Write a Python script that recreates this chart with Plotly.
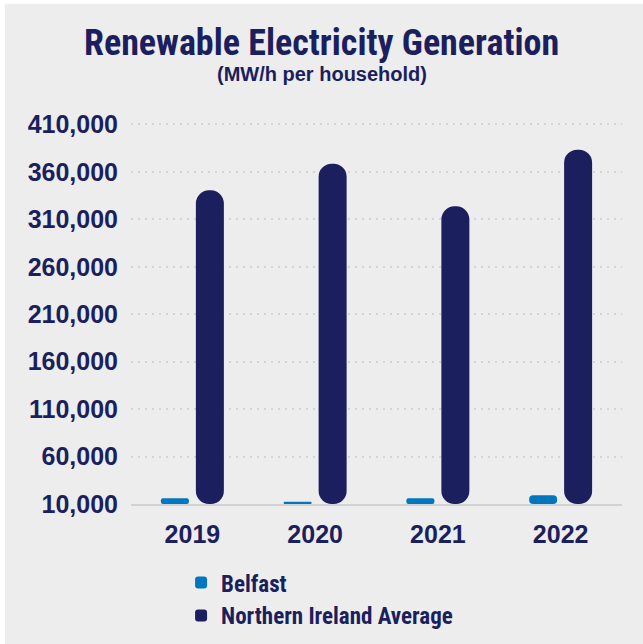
import plotly.graph_objects as go

years = ["2019", "2020", "2021", "2022"]
belfast = [16000, 12400, 16000, 19200]
ni_avg = [340600, 368700, 323700, 383500]
tick_vals = [10000, 60000, 110000, 160000, 210000, 260000, 310000, 360000, 410000]
tick_text = ["10,000", "60,000", "110,000", "160,000", "210,000", "260,000", "310,000", "360,000", "410,000"]

AXIS_MIN = 10000
AXIS_MAX = 420000

NAVY = "#1b1f5e"
BLUE = "#0077be"
BG = "#ededed"
COND = "Roboto Condensed, Liberation Sans"

fig = go.Figure()
fig.add_trace(go.Bar(
    name="Belfast", x=years, y=[v - AXIS_MIN for v in belfast], base=AXIS_MIN,
    marker=dict(color=BLUE, line=dict(width=0)),
    legendgroup="a",
))
fig.add_trace(go.Bar(
    name="Northern Ireland Average", x=years, y=[v - AXIS_MIN for v in ni_avg], base=AXIS_MIN,
    marker=dict(color=NAVY, line=dict(width=0)),
    legendgroup="b",
))

fig.update_layout(
    width=643, height=644,
    margin=dict(l=131, r=21, t=115, b=140, autoexpand=False),
    paper_bgcolor=BG, plot_bgcolor=BG,
    barmode="group", bargap=0.43, bargroupgap=0.2, barcornerradius=14,
    font=dict(family="Liberation Sans", color=NAVY),
    showlegend=True,
    legend=dict(
        x=0.102, xanchor="left", y=-0.1467, yanchor="top",
        orientation="v", traceorder="normal", tracegroupgap=6,
        font=dict(family=COND, size=23, color=NAVY, weight="bold"),
        bgcolor="rgba(0,0,0,0)",
    ),
    xaxis=dict(
        showgrid=False, showline=True, linecolor="#d2d2d2", linewidth=1.5,
        ticks="outside", ticklen=7, tickcolor="rgba(0,0,0,0)",
        tickfont=dict(family="Liberation Sans", size=25, color=NAVY, weight="bold"),
    ),
    yaxis=dict(
        range=[AXIS_MIN, AXIS_MAX], tickvals=tick_vals, ticktext=tick_text,
        showgrid=True, gridcolor="#d4d4d4", gridwidth=2, griddash="2px,5px",
        zeroline=False, showline=False,
        ticklabelstandoff=12,
        tickfont=dict(family="Liberation Sans", size=25, color=NAVY, weight="bold"),
    ),
    annotations=[
        dict(text="<b>Renewable Electricity Generation</b>", xref="paper", yref="paper",
             x=0.388, y=1.186, xanchor="center", yanchor="middle", showarrow=False,
             font=dict(family=COND, size=36, color=NAVY)),
        dict(text="<b>(MW/h per household)</b>", xref="paper", yref="paper",
             x=0.388, y=1.105, xanchor="center", yanchor="middle", showarrow=False,
             font=dict(family="Liberation Sans", size=20, color=NAVY)),
    ],
    shapes=[
        dict(type="rect", xref="paper", yref="paper", x0=-0.27, x1=-0.2566, y0=-0.4, y1=1.35,
             fillcolor="white", line=dict(width=0), layer="below"),
        dict(type="rect", xref="paper", yref="paper", x0=-0.27, x1=1.1, y0=1.2863, y1=1.35,
             fillcolor="white", line=dict(width=0), layer="below"),
    ],
)

fig.write_html("out.html")
